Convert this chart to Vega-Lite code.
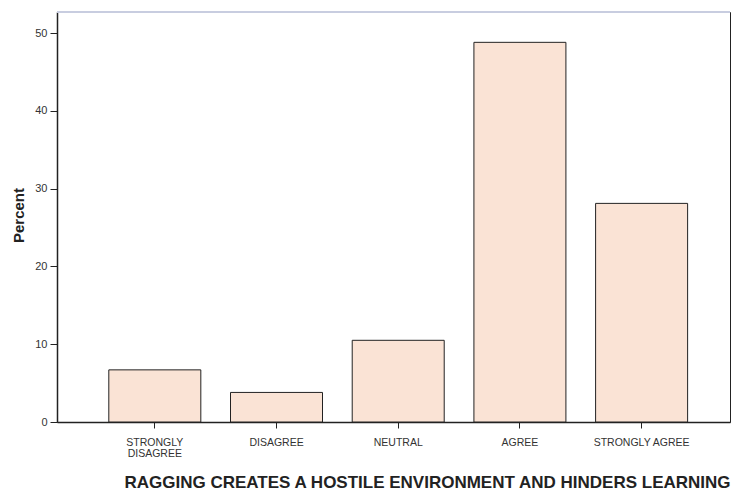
{
  "$schema": "https://vega.github.io/schema/vega-lite/v6.json",
  "autosize": "none",
  "width": 673,
  "height": 410,
  "padding": {"left": 57, "top": 12, "right": 2, "bottom": 75},
  "background": "white",
  "config": {
    "view": {"stroke": "#222", "strokeWidth": 1},
    "font": "Liberation Sans"
  },
  "data": {
    "values": [
      {"response": "STRONGLY DISAGREE", "percent": 6.7},
      {"response": "DISAGREE", "percent": 3.8},
      {"response": "NEUTRAL", "percent": 10.5},
      {"response": "AGREE", "percent": 48.8},
      {"response": "STRONGLY AGREE", "percent": 28.1}
    ]
  },
  "layer": [
    {
      "mark": {"type": "bar", "fill": "#fae3d5", "stroke": "#222", "strokeWidth": 1},
      "encoding": {
        "x": {
          "field": "response",
          "type": "nominal",
          "sort": null,
          "scale": {"paddingInner": 0.244, "paddingOuter": 0.387, "align": 0.55},
          "axis": {
            "title": "RAGGING CREATES A HOSTILE ENVIRONMENT AND HINDERS LEARNING",
            "titleFont": "Liberation Sans",
            "titleFontSize": 17,
            "titleFontWeight": "bold",
            "titleColor": "#222",
            "titleX": 370,
            "titleY": 52,
            "titleBaseline": "top",
            "labelAngle": 0,
            "labelFontSize": 10.5,
            "labelColor": "#333",
            "labelPadding": 9,
            "labelLineHeight": 11,
            "labelExpr": "datum.label == 'STRONGLY DISAGREE' ? ['STRONGLY', 'DISAGREE'] : datum.label",
            "tickColor": "#222",
            "tickSize": 6,
            "domainColor": "#222",
            "domainWidth": 1.5
          }
        },
        "y": {
          "field": "percent",
          "type": "quantitative",
          "scale": {"domain": [0, 52.7], "nice": false},
          "axis": {
            "title": "Percent",
            "titleFontSize": 15,
            "titleFontWeight": "bold",
            "titleColor": "#222",
            "titleX": -39,
            "titleY": 203,
            "titleBaseline": "middle",
            "values": [0, 10, 20, 30, 40, 50],
            "grid": false,
            "labelFontSize": 11,
            "labelColor": "#333",
            "labelPadding": 3,
            "tickColor": "#222",
            "tickSize": 7,
            "domainColor": "#222",
            "domainWidth": 1.5
          }
        }
      }
    },
    {
      "data": {"values": [{"top": 52.7}]},
      "mark": {"type": "rule", "color": "#c8cde0", "strokeWidth": 2},
      "encoding": {"y": {"field": "top", "type": "quantitative"}}
    }
  ]
}
